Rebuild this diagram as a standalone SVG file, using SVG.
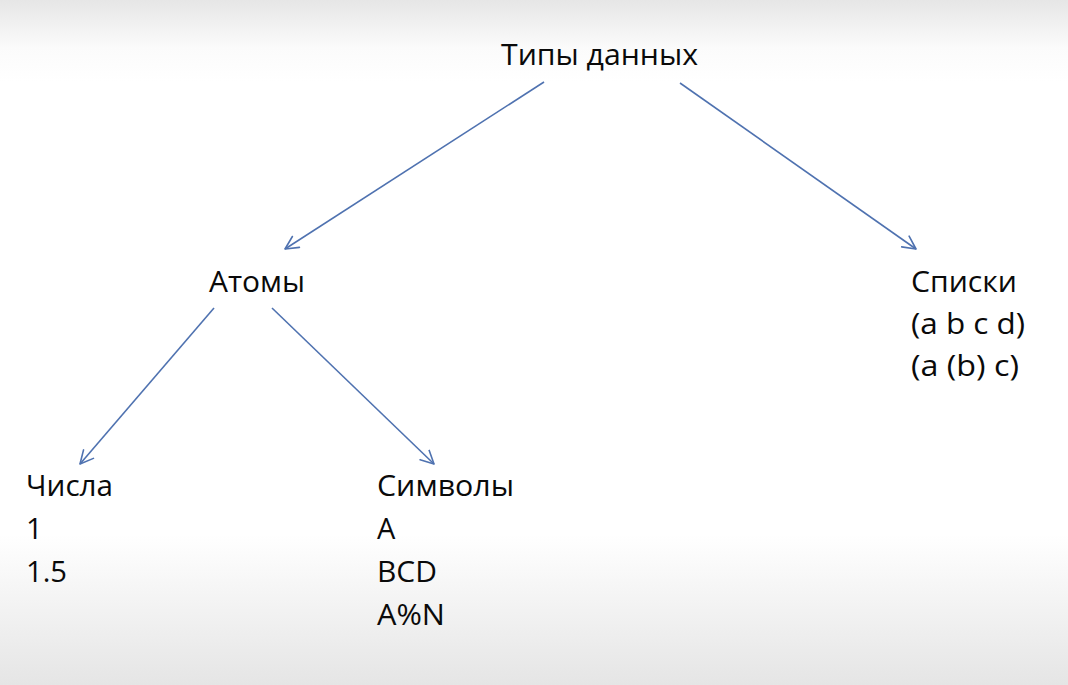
<svg xmlns="http://www.w3.org/2000/svg" width="1068" height="685" viewBox="0 0 1068 685">
  <defs>
    <linearGradient id="bg" x1="0" y1="0" x2="0" y2="1">
      <stop offset="0" stop-color="#e6e6e6"/>
      <stop offset="0.07" stop-color="#fbfbfb"/>
      <stop offset="0.12" stop-color="#ffffff"/>
      <stop offset="0.78" stop-color="#ffffff"/>
      <stop offset="0.9" stop-color="#f1f1f1"/>
      <stop offset="1" stop-color="#e5e5e5"/>
    </linearGradient>
    <marker id="arrow" viewBox="0 0 16 16" refX="14" refY="8" markerWidth="16" markerHeight="16" markerUnits="userSpaceOnUse" orient="auto">
      <path d="M1,1.5 L14,8 L1,14.5" fill="none" stroke="#4f72b0" stroke-width="1.6" stroke-linecap="round" stroke-linejoin="round"/>
    </marker>
  </defs>
  <style>
    text { font-family: "Open Sans", "Noto Sans", "DejaVu Sans", sans-serif; font-size: 29px; fill: #0a0a0a; }
    .edge { stroke: #4f72b0; stroke-width: 1.6; fill: none; marker-end: url(#arrow); }
  </style>
  <rect x="0" y="0" width="1068" height="685" fill="url(#bg)"/>

  <g id="connectors">
    <line class="edge" x1="544" y1="82" x2="285" y2="249"/>
    <line class="edge" x1="680" y1="83" x2="916" y2="249"/>
    <line class="edge" x1="214" y1="308" x2="80" y2="464"/>
    <line class="edge" x1="272" y1="308" x2="434" y2="464"/>
  </g>

  <g id="node-types">
    <text x="501" y="65" textLength="197" lengthAdjust="spacingAndGlyphs">Типы данных</text>
  </g>

  <g id="node-atoms">
    <text x="209" y="292" textLength="96" lengthAdjust="spacingAndGlyphs">Атомы</text>
  </g>

  <g id="node-lists">
    <text x="911" y="292" textLength="106" lengthAdjust="spacingAndGlyphs">Списки</text>
    <text x="911" y="334" textLength="114" lengthAdjust="spacingAndGlyphs">(a b c d)</text>
    <text x="911" y="376" textLength="108" lengthAdjust="spacingAndGlyphs">(a (b) c)</text>
  </g>

  <g id="node-numbers">
    <text x="26" y="496" textLength="87" lengthAdjust="spacingAndGlyphs">Числа</text>
    <text x="26" y="539">1</text>
    <text x="26" y="582" textLength="41" lengthAdjust="spacingAndGlyphs">1.5</text>
  </g>

  <g id="node-symbols">
    <text x="377" y="496" textLength="137" lengthAdjust="spacingAndGlyphs">Символы</text>
    <text x="377" y="539">A</text>
    <text x="377" y="582" textLength="60" lengthAdjust="spacingAndGlyphs">BCD</text>
    <text x="377" y="625" textLength="68" lengthAdjust="spacingAndGlyphs">A%N</text>
  </g>
</svg>
